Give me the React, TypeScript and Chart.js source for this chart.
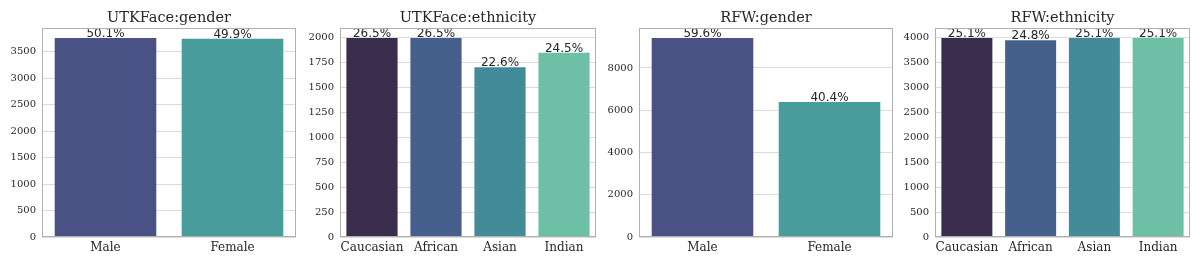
import React, { useEffect, useRef } from "react";
import { Chart, registerables } from "chart.js";

Chart.register(...registerables);

const titles = ["UTKFace:gender", "UTKFace:ethnicity", "RFW:gender", "RFW:ethnicity"];

const genderCategories = ["Male", "Female"];
const ethnicityCategories = ["Caucasian", "African", "Asian", "Indian"];

const utkGenderValues = [3758, 3742];
const utkEthnicityValues = [1995, 1995, 1702, 1846];
const rfwGenderValues = [9420, 6385];
const rfwEthnicityValues = [3995, 3950, 3995, 3995];

const yStepSizes = [500, 250, 2000, 500];

const genderColors = ["#4a5184", "#489d9c"];
const ethnicityColors = ["#3a2d4e", "#45608c", "#438b98", "#6dc0a6"];

// plot-area left/right in page pixels
const plotLefts = [42, 340, 639, 935];
const plotRights = [296, 596, 893, 1190];

const Y_AXIS_W = 45;

const panels = [
  { title: titles[0], labels: genderCategories, values: utkGenderValues, colors: genderColors, step: yStepSizes[0] },
  { title: titles[1], labels: ethnicityCategories, values: utkEthnicityValues, colors: ethnicityColors, step: yStepSizes[1] },
  { title: titles[2], labels: genderCategories, values: rfwGenderValues, colors: genderColors, step: yStepSizes[2] },
  { title: titles[3], labels: ethnicityCategories, values: rfwEthnicityValues, colors: ethnicityColors, step: yStepSizes[3] },
];

const framePlugin = {
  id: "frame",
  afterDraw(chart: any) {
    const { ctx, chartArea } = chart;
    ctx.save();
    ctx.strokeStyle = "#b0b0b0";
    ctx.lineWidth = 1;
    ctx.strokeRect(
      Math.round(chartArea.left) + 0.5,
      Math.round(chartArea.top) + 0.5,
      Math.round(chartArea.right - chartArea.left) - 1,
      Math.round(chartArea.bottom - chartArea.top) - 1
    );
    // title centred over the plot area
    const t = chart.options.plugins.panelTitle?.text;
    if (t) {
      ctx.font = "14.5px 'DejaVu Serif'";
      ctx.fillStyle = "#262626";
      ctx.textAlign = "center";
      ctx.textBaseline = "alphabetic";
      ctx.fillText(t, (chartArea.left + chartArea.right) / 2, 22);
    }
    ctx.restore();
  },
};

const pctPlugin = {
  id: "pct",
  afterDatasetsDraw(chart: any) {
    const { ctx } = chart;
    const ds = chart.data.datasets[0];
    const vals: number[] = ds.data;
    const total = vals.reduce((a, b) => a + b, 0);
    const meta = chart.getDatasetMeta(0);
    ctx.save();
    ctx.font = "12px 'DejaVu Sans'";
    ctx.fillStyle = "#262626";
    ctx.textAlign = "center";
    ctx.textBaseline = "bottom";
    meta.data.forEach((bar: any, i: number) => {
      const pct = ((vals[i] / total) * 100).toFixed(1) + "%";
      ctx.fillText(pct, bar.x, bar.y + 2);
    });
    ctx.restore();
  },
};

function Panel({ idx }: { idx: number }) {
  const ref = useRef<HTMLCanvasElement | null>(null);
  const p = panels[idx];
  const left = plotLefts[idx] - Y_AXIS_W;
  const width = plotRights[idx] - plotLefts[idx] + Y_AXIS_W + 1;

  useEffect(() => {
    if (!ref.current) return;
    const maxV = Math.max(...p.values) * 1.05;
    const chart = new Chart(ref.current, {
      type: "bar",
      data: {
        labels: p.labels,
        datasets: [
          {
            data: p.values,
            backgroundColor: p.colors,
            borderColor: p.colors,
            borderWidth: 0,
            categoryPercentage: 1,
            barPercentage: 0.8,
          },
        ],
      },
      options: {
        animation: false,
        responsive: false,
        maintainAspectRatio: false,
        layout: { padding: { left: 0, right: 1, top: 28, bottom: 0 } },
        plugins: {
          legend: { display: false },
          tooltip: { enabled: false },
          title: { display: false },
          panelTitle: { text: p.title },
        } as any,
        scales: {
          x: {
            offset: true,
            grid: { display: false, drawTicks: false },
            border: { display: false },
            ticks: {
              color: "#262626",
              font: { family: "'DejaVu Serif'", size: 12 },
              padding: 4,
              maxRotation: 0,
              autoSkip: false,
            },
            afterFit(scale: any) {
              scale.height = 22;
            },
          },
          y: {
            min: 0,
            max: maxV,
            grid: { color: "#dcdcdc", lineWidth: 1, drawTicks: false },
            border: { display: false },
            ticks: {
              color: "#262626",
              font: { family: "'DejaVu Serif'", size: 10 },
              padding: 6,
              callback: (v: any) => String(v),
            },
            afterBuildTicks(scale: any) {
              const ticks: any[] = [];
              for (let v = 0; v <= maxV + 1e-9; v += p.step) ticks.push({ value: v });
              scale.ticks = ticks;
            },
            afterFit(scale: any) {
              scale.width = Y_AXIS_W;
            },
          },
        },
      },
      plugins: [framePlugin, pctPlugin],
    });
    return () => chart.destroy();
  }, [idx]);

  return (
    <canvas
      ref={ref}
      width={width}
      height={259}
      style={{ position: "absolute", left, top: 0, width, height: 259 }}
    />
  );
}

export default function App() {
  return (
    <div
      style={{
        position: "fixed",
        left: 0,
        top: 0,
        width: 1200,
        height: 259,
        background: "#ffffff",
        overflow: "hidden",
      }}
    >
      {panels.map((_, i) => (
        <Panel key={i} idx={i} />
      ))}
    </div>
  );
}
